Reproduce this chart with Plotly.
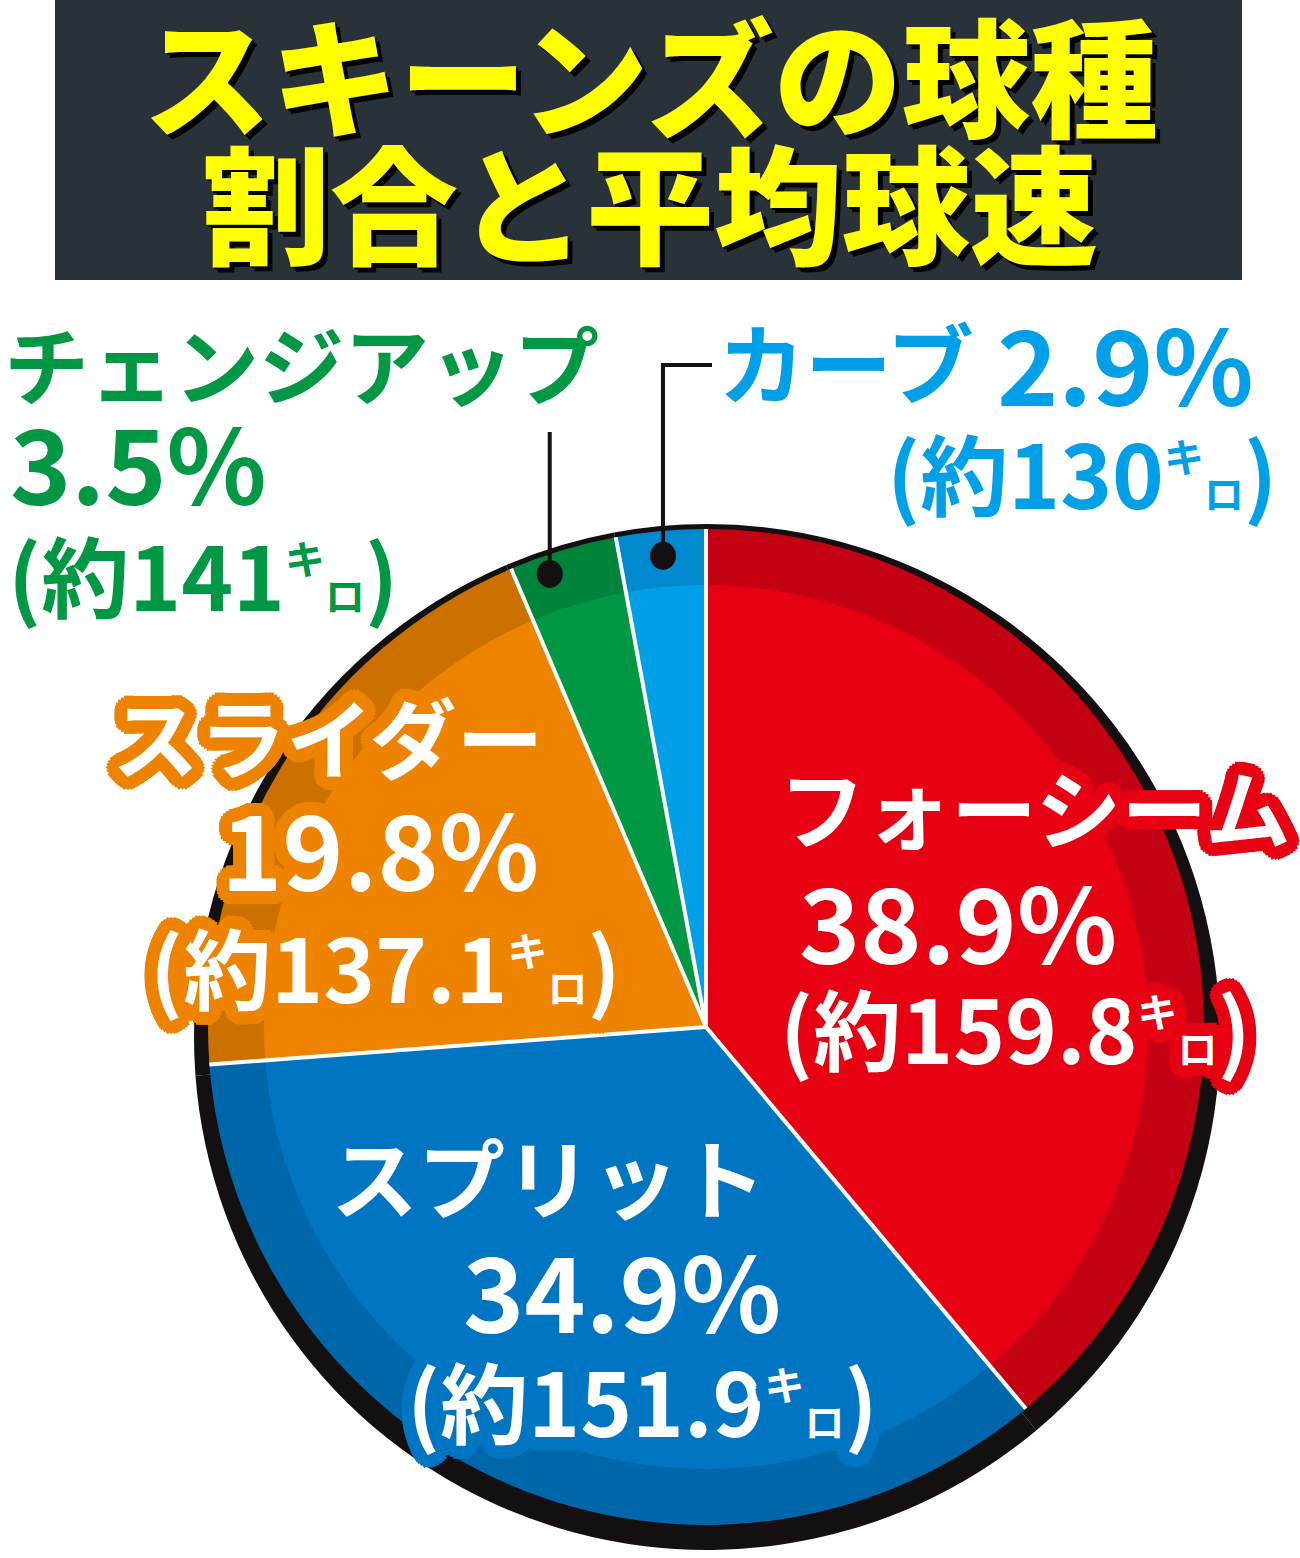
import math
import plotly.graph_objects as go

# pitch mix data
pitches = ["フォーシーム", "スプリット", "スライダー", "チェンジアップ", "カーブ"]
shares = [38.9, 34.9, 19.8, 3.5, 2.9]
speeds = ["159.8", "151.9", "137.1", "141", "130"]
colors = ["#E60012", "#0075C2", "#EE8300", "#009844", "#00A0E9"]
dark_colors = ["#C40013", "#0066AA", "#CC7100", "#00843C", "#0089CC"]

W, H = 1300, 1558
cx, cy = 706, 1027
R_dark, R_light = 498, 442
bcx, bcy, R_black = 707, 1037, 513
FONT = "Noto Sans CJK JP"


def px(x):
    return x / W


def py(y):
    return 1 - y / H


def dom(x0, y0, r):
    return dict(x=[px(x0 - r), px(x0 + r)], y=[py(y0 + r), py(y0 - r)])


def outline(color, w):
    parts = []
    for k in range(24):
        a = 2 * math.pi * k / 24
        parts.append(f"{w*math.cos(a):.1f}px {w*math.sin(a):.1f}px 0 {color}")
    for k in range(12):
        a = 2 * math.pi * k / 12 + 0.2
        parts.append(f"{w*0.55*math.cos(a):.1f}px {w*0.55*math.sin(a):.1f}px 0 {color}")
    return ", ".join(parts)


def speed_text(v):
    return (f"(約{v}<sup><span style='font-size:40px'>キ</span></sup>"
            f"<span style='font-size:40px'>ロ</span>)")


fig = go.Figure()
for (x0, y0, r), cols in [((bcx, bcy, R_black), ["#140F10"] * 5),
                          ((cx, cy, R_dark), dark_colors),
                          ((cx, cy, R_light), colors)]:
    fig.add_trace(go.Pie(
        labels=pitches, values=shares, sort=False, direction="clockwise",
        rotation=0, marker=dict(colors=cols, line=dict(width=0)),
        textinfo="none", hoverinfo="label+percent", domain=dom(x0, y0, r),
        showlegend=False))

shapes = []
# title box
shapes.append(dict(type="rect", xref="paper", yref="paper", x0=px(55), x1=px(1242),
                   y0=py(280), y1=py(0), fillcolor="#283238", line=dict(width=0),
                   layer="below"))

# slice separators
total = sum(shares)
cum = 0
mids = []
for s in shares:
    a0 = cum / total * 2 * math.pi
    cum += s
    mids.append((a0 + cum / total * 2 * math.pi) / 2)
    shapes.append(dict(type="line", xref="paper", yref="paper",
                       x0=px(cx), y0=py(cy),
                       x1=px(cx + R_dark * math.sin(a0)), y1=py(cy - R_dark * math.cos(a0)),
                       line=dict(color="white", width=4), layer="above"))

# leader lines for small slices
leaders = {3: (432, None), 4: (365, 712)}
for i, (ytop, xend) in leaders.items():
    dx = cx + 0.95 * R_dark * math.sin(mids[i]) - (20 if i == 3 else 0)
    dy = cy - 0.95 * R_dark * math.cos(mids[i])
    shapes.append(dict(type="line", xref="paper", yref="paper", x0=px(dx), x1=px(dx),
                       y0=py(dy), y1=py(ytop), line=dict(color="#140F10", width=4)))
    if xend:
        shapes.append(dict(type="line", xref="paper", yref="paper", x0=px(dx - 2), x1=px(xend),
                           y0=py(ytop), y1=py(ytop), line=dict(color="#140F10", width=4)))
    shapes.append(dict(type="circle", xref="paper", yref="paper",
                       x0=px(dx - 13), x1=px(dx + 13), y0=py(dy + 14), y1=py(dy - 14),
                       fillcolor="#140F10", line=dict(width=0)))

ann = []


def add(text, x, y, size, color, shadow="none", xanchor="center", weight=700):
    ann.append(dict(text=text, x=px(x), y=py(y), xref="paper", yref="paper",
                    xanchor=xanchor, yanchor="middle", showarrow=False,
                    font=dict(family=FONT, size=size, color=color, weight=weight,
                              shadow=shadow)))


# title
tshadow = "5px 5px 0 #000000, 2px 2px 0 #000000"
add("スキーンズの球種", 650, 72, 128, "#FFFF00", tshadow, weight=900)
add("割合と平均球速", 650, 200, 128, "#FFFF00", tshadow, weight=900)

# フォーシーム
ol = outline(colors[0], 13)
add(pitches[0], 1035, 805, 86, "white", ol)
add(f"{shares[0]}%", 958, 918, 104, "white", ol)
add(speed_text(speeds[0]), 1015, 1025, 88, "white", ol)

# スプリット
ol = outline(colors[1], 13)
add(pitches[1], 548, 1175, 87, "white", ol)
add(f"{shares[1]}%", 622, 1287, 104, "white", ol)
add(speed_text(speeds[1]), 642, 1398, 88, "white", ol)

# スライダー
ol = outline(colors[2], 13)
add(pitches[2], 328, 735, 87, "white", ol)
add(f"{shares[2]}%", 380, 845, 104, "white", ol)
add(speed_text(speeds[2]), 385, 965, 88, "white", ol)

# チェンジアップ
add(pitches[3], 2, 362, 85, colors[3], xanchor="left")
add(f"{shares[3]}%", 8, 460, 104, colors[3], xanchor="left")
add(speed_text(speeds[3]), 6, 572, 88, colors[3], xanchor="left")

# カーブ
add(pitches[4], 716, 360, 87, colors[4], xanchor="left")
add(f"{shares[4]}%", 995, 360, 104, colors[4], xanchor="left")
add(speed_text(speeds[4]), 1082, 470, 88, colors[4])

fig.update_layout(width=W, height=H, margin=dict(l=0, r=0, t=0, b=0),
                  paper_bgcolor="white", plot_bgcolor="white",
                  shapes=shapes, annotations=ann)
fig.write_html("out.html", config={"displayModeBar": False},
               post_script="document.body.style.margin='0px';")
